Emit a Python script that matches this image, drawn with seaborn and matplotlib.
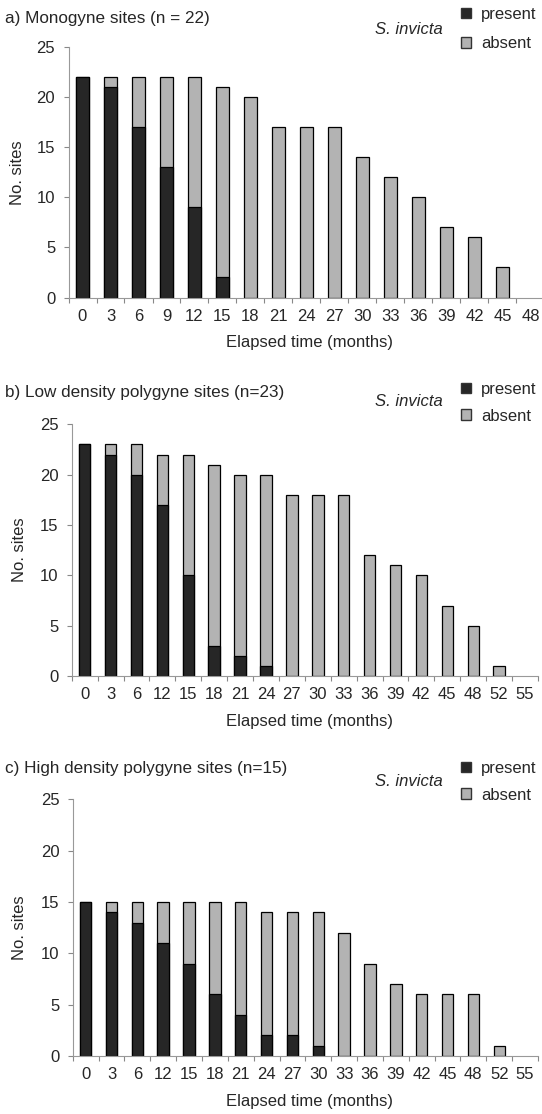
import pandas as pd
import numpy as np
import seaborn as sns
import matplotlib.pyplot as plt
from matplotlib.patches import Patch

# data
months_a = ['0', '3', '6', '9', '12', '15', '18', '21', '24', '27', '30', '33', '36', '39', '42', '45', '48']
total_a = [22, 22, 22, 22, 22, 21, 20, 17, 17, 17, 14, 12, 10, 7, 6, 3, 0]
present_a = [22, 21, 17, 13, 9, 2, 0, 0, 0, 0, 0, 0, 0, 0, 0, 0, 0]

months_bc = ['0', '3', '6', '12', '15', '18', '21', '24', '27', '30', '33', '36', '39', '42', '45', '48', '52', '55']
total_b = [23, 23, 23, 22, 22, 21, 20, 20, 18, 18, 18, 12, 11, 10, 7, 5, 1, 0]
present_b = [23, 22, 20, 17, 10, 3, 2, 1, 0, 0, 0, 0, 0, 0, 0, 0, 0, 0]

total_c = [15, 15, 15, 15, 15, 15, 15, 14, 14, 14, 12, 9, 7, 6, 6, 6, 1, 0]
present_c = [15, 14, 13, 11, 9, 6, 4, 2, 2, 1, 0, 0, 0, 0, 0, 0, 0, 0]

titles = ['a) Monogyne sites (n = 22)',
          'b) Low density polygyne sites (n=23)',
          'c) High density polygyne sites (n=15)']

sns.set_style('white')
plt.rcParams['font.family'] = ['Liberation Sans', 'DejaVu Sans']

W, H = 542, 1114
fig = plt.figure(figsize=(W / 100, H / 100), dpi=100)

DARK = '#262626'
GREY = '#b3b3b3'
FS = 12

# panel geometry in pixels: left, right, top(25), bottom(0), title y, xlabel y, legend y
panels = [
    dict(months=months_a, total=total_a, present=present_a, l=68.5, r=544.5, t=47, b=297.5,
         ty=18, xy=343, ly=15, sy=29, ls=0.85, ylab=17),
    dict(months=months_bc, total=total_b, present=present_b, l=71.7, r=538, t=424.3, b=676,
         ty=393, xy=721.7, ly=390, sy=402, ls=0.7, ylab=19),
    dict(months=months_bc, total=total_c, present=present_c, l=72.7, r=538, t=799.3, b=1056,
         ty=769, xy=1101.7, ly=769, sy=782, ls=0.7, ylab=20),
]

for p, title in zip(panels, titles):
    ax = fig.add_axes([p['l'] / W, 1 - p['b'] / H, (p['r'] - p['l']) / W, (p['b'] - p['t']) / H])
    df = pd.DataFrame({'month': p['months'], 'total': p['total'], 'present': p['present']})
    n = len(df)
    # grey total bar first, dark "present" part drawn over it
    sns.barplot(data=df[df.total > 0], x='month', y='total', order=p['months'],
                color=GREY, saturation=1, width=0.44, edgecolor='black', linewidth=0.9, ax=ax)
    sns.barplot(data=df[df.present > 0], x='month', y='present', order=p['months'],
                color=DARK, saturation=1, width=0.44, edgecolor='black', linewidth=0.9, ax=ax)
    ax.set_xlim(-0.5, n - 0.5)
    ax.set_ylim(0, 25)
    ax.set_yticks(np.arange(0, 26, 5))
    ax.set_xticks(np.arange(n))
    ax.set_xticklabels(p['months'])
    ax.set_xticks(np.arange(n + 1) - 0.5, minor=True)
    ax.tick_params(axis='x', which='major', length=0, pad=8, labelsize=FS)
    ax.tick_params(axis='x', which='minor', length=3.4, width=0.8, color='#888888', direction='out', bottom=True)
    ax.tick_params(axis='y', length=3.6, width=0.8, color='#888888', direction='out', left=True, labelsize=FS, pad=6)
    for s in ['top', 'right']:
        ax.spines[s].set_visible(False)
    for s in ['left', 'bottom']:
        ax.spines[s].set_color('#999999')
        ax.spines[s].set_linewidth(0.8)
    ax.set_xlabel('')
    ax.set_ylabel('')

    fig.text(5 / W, 1 - p['ty'] / H, title, fontsize=12.3, va='center', ha='left')
    fig.text(p['ylab'] / W, 1 - (p['t'] + p['b']) / 2 / H, 'No. sites', rotation=90,
             fontsize=FS, va='center', ha='center')
    fig.text(309 / W, 1 - p['xy'] / H, 'Elapsed time (months)',
             fontsize=FS, va='center', ha='center')
    fig.text(443 / W, 1 - p['sy'] / H, 'S. invicta', style='italic',
             fontsize=FS, va='center', ha='right')
    handles = [Patch(facecolor=DARK, edgecolor='#333333', label='present'),
               Patch(facecolor=GREY, edgecolor='#333333', label='absent')]
    fig.legend(handles=handles, loc='upper left', bbox_to_anchor=(461 / W, 1 - (p['ly'] - 8) / H),
               frameon=False, fontsize=FS, handlelength=0.6, handleheight=0.6,
               handletextpad=0.6, labelspacing=p['ls'], borderaxespad=0, borderpad=0)

fig.savefig('out.png', dpi=100)
